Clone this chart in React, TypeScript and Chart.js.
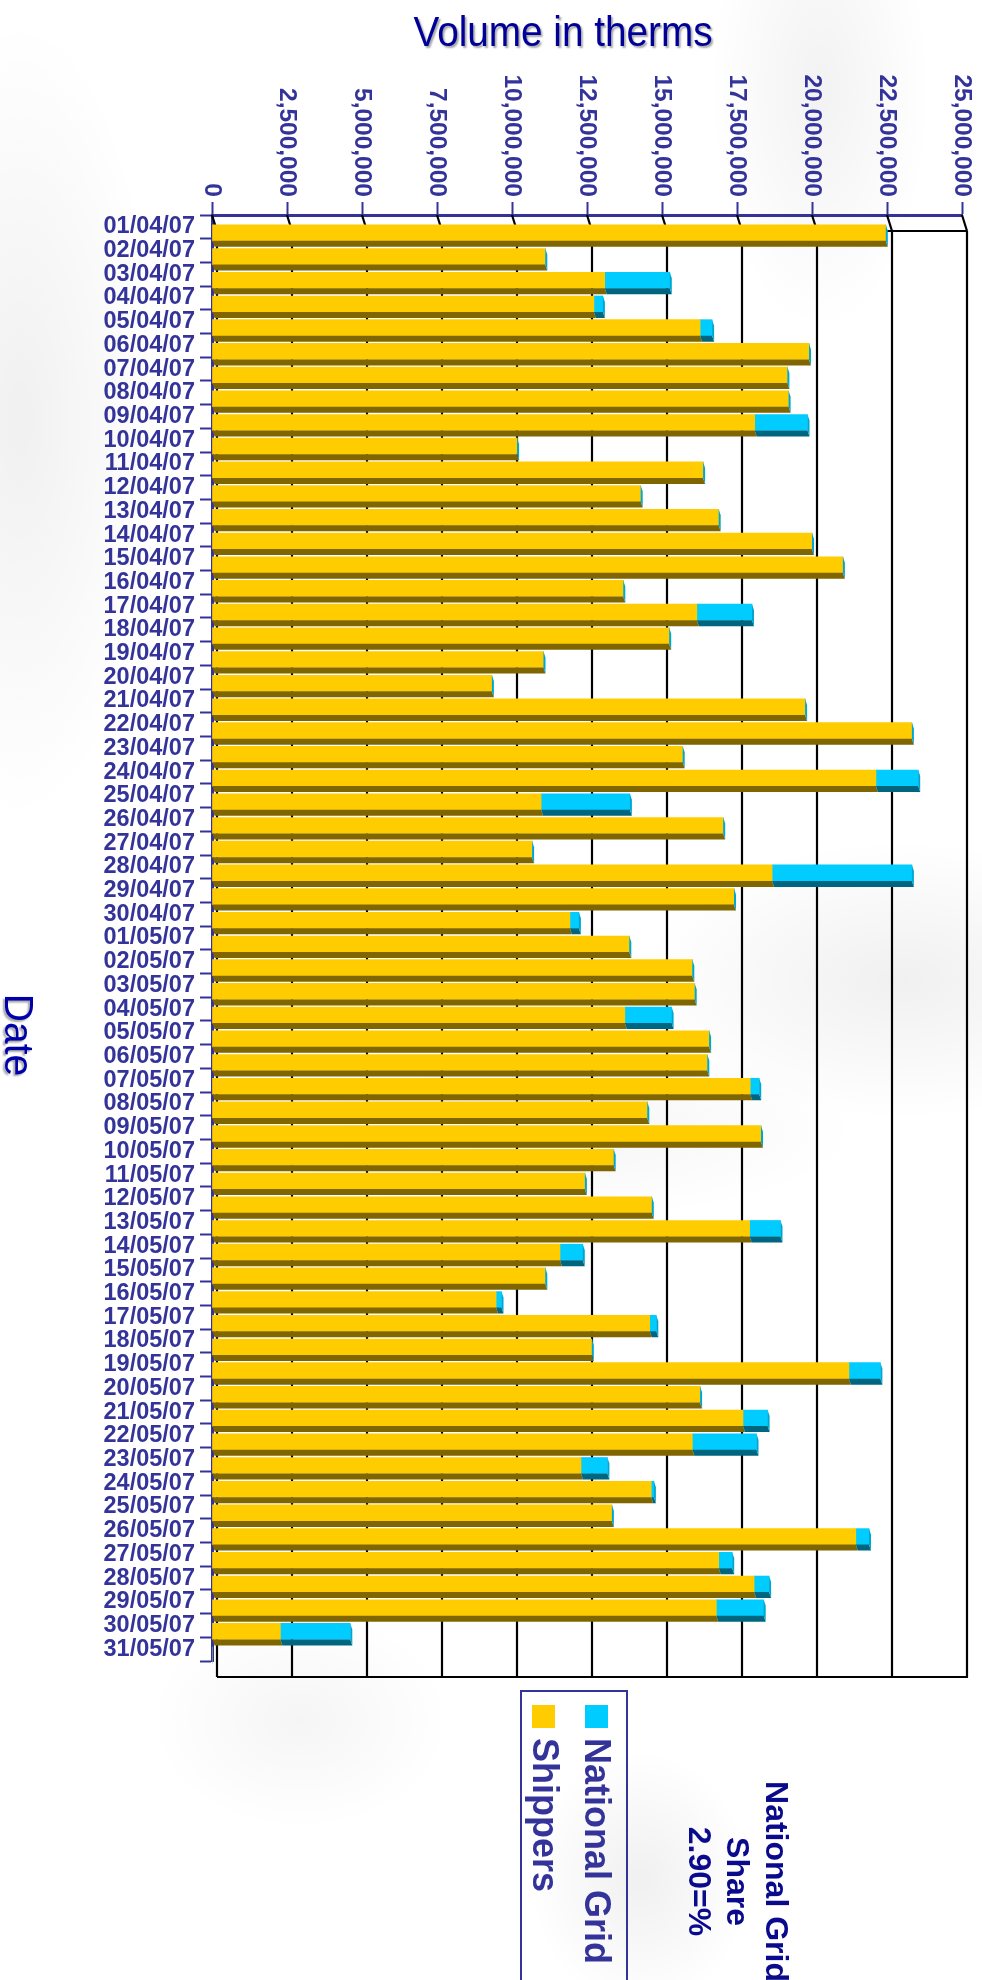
import React, { useEffect, useRef } from 'react';
import { Chart, registerables } from 'chart.js';

Chart.register(...registerables);

const dates = [
  '01/04/07', '02/04/07', '03/04/07', '04/04/07', '05/04/07', '06/04/07', '07/04/07', '08/04/07',
  '09/04/07', '10/04/07', '11/04/07', '12/04/07', '13/04/07', '14/04/07', '15/04/07', '16/04/07',
  '17/04/07', '18/04/07', '19/04/07', '20/04/07', '21/04/07', '22/04/07', '23/04/07', '24/04/07',
  '25/04/07', '26/04/07', '27/04/07', '28/04/07', '29/04/07', '30/04/07',
  '01/05/07', '02/05/07', '03/05/07', '04/05/07', '05/05/07', '06/05/07', '07/05/07', '08/05/07',
  '09/05/07', '10/05/07', '11/05/07', '12/05/07', '13/05/07', '14/05/07', '15/05/07', '16/05/07',
  '17/05/07', '18/05/07', '19/05/07', '20/05/07', '21/05/07', '22/05/07', '23/05/07', '24/05/07',
  '25/05/07', '26/05/07', '27/05/07', '28/05/07', '29/05/07', '30/05/07', '31/05/07',
];

const shippers = [
  22460000, 11110000, 13090000, 12730000, 16270000, 19900000, 19180000, 19220000,
  18090000, 10170000, 16370000, 14290000, 16890000, 20000000, 21030000, 13710000,
  16160000, 15240000, 11050000, 9330000, 19770000, 23330000, 15690000, 22130000,
  10970000, 17040000, 10670000, 18670000, 17400000, 11930000,
  13910000, 16010000, 16090000, 13760000, 16570000, 16510000, 17940000, 14510000,
  18300000, 13390000, 12430000, 14660000, 17920000, 11600000, 11110000, 9470000,
  14590000, 12660000, 21230000, 16270000, 17700000, 16010000, 12300000, 14640000,
  13330000, 21460000, 16890000, 18070000, 16810000, 2280000, 0,
];

const nationalGrid = [
  0, 0, 2170000, 300000, 400000, 0, 0, 0,
  1760000, 0, 0, 0, 0, 0, 0, 0,
  1840000, 0, 0, 0, 0, 0, 0, 1410000,
  2960000, 0, 0, 4660000, 0, 300000,
  0, 0, 0, 1560000, 0, 0, 300000, 0,
  0, 0, 0, 0, 1030000, 760000, 0, 180000,
  220000, 0, 1050000, 0, 820000, 2140000, 880000, 90000,
  0, 440000, 450000, 500000, 1580000, 2330000, 0,
];

const volumeTicks = [
  0, 2500000, 5000000, 7500000, 10000000, 12500000, 15000000, 17500000, 20000000, 22500000, 25000000,
];

const FONT = "'Liberation Sans', Arial, sans-serif";
const WALL_DX = 5;
const WALL_DY = 16;
const BAR_DX = 2;
const BAR_DY = 6;
const BAR_SHIFT = 6;

const threeDPlugin = {
  id: 'threeD',
  beforeDatasetsDraw(chart: any) {
    const { ctx, chartArea: a, scales } = chart;
    const x = scales.x;
    ctx.save();
    ctx.strokeStyle = '#000000';
    ctx.lineWidth = 2.2;
    ctx.beginPath();
    x.ticks.forEach((t: any) => {
      const px = x.getPixelForValue(t.value);
      ctx.moveTo(px, a.top);
      ctx.lineTo(px + WALL_DX, a.top + WALL_DY);
      ctx.moveTo(px + WALL_DX, a.top + WALL_DY);
      ctx.lineTo(px + WALL_DX, a.bottom + WALL_DY);
    });
    ctx.moveTo(a.left + WALL_DX, a.top + WALL_DY);
    ctx.lineTo(a.right + WALL_DX, a.top + WALL_DY);
    ctx.moveTo(a.left + WALL_DX, a.bottom + WALL_DY);
    ctx.lineTo(a.right + WALL_DX + 1, a.bottom + WALL_DY);
    ctx.stroke();
    ctx.restore();
    ctx.save();
    ctx.translate(0, BAR_SHIFT);
  },
  afterDatasetsDraw(chart: any) {
    const { ctx } = chart;
    const metaS = chart.getDatasetMeta(0);
    const metaN = chart.getDatasetMeta(1);
    const quad = (pts: number[][], color: string) => {
      ctx.beginPath();
      ctx.moveTo(pts[0][0], pts[0][1]);
      for (let k = 1; k < pts.length; k++) ctx.lineTo(pts[k][0], pts[k][1]);
      ctx.closePath();
      ctx.fillStyle = color;
      ctx.fill();
    };
    metaS.data.forEach((s: any, i: number) => {
      const n = metaN.data[i];
      const h = s.height;
      const yt = s.y - h / 2;
      const yb = s.y + h / 2;
      const x0 = s.base;
      const x1 = s.x;
      const x2 = n ? n.x : x1;
      if (x1 - x0 > 0.5) {
        quad([[x0, yb], [x1, yb], [x1 + BAR_DX, yb + BAR_DY], [x0 + BAR_DX, yb + BAR_DY]], '#806600');
      }
      if (x2 - x1 > 0.5) {
        quad([[x1, yb], [x2, yb], [x2 + BAR_DX, yb + BAR_DY], [x1 + BAR_DX, yb + BAR_DY]], '#006680');
      }
      if (x2 - x0 > 0.5) {
        quad([[x2, yt], [x2 + BAR_DX, yt + BAR_DY], [x2 + BAR_DX, yb + BAR_DY], [x2, yb]], '#00A6D2');
      }
    });
    ctx.restore();
  },
  afterDraw(chart: any) {
    const { ctx, scales } = chart;
    const x = scales.x;
    ctx.save();
    ctx.fillStyle = '#333399';
    ctx.font = `bold 24.5px ${FONT}`;
    ctx.textAlign = 'right';
    ctx.textBaseline = 'alphabetic';
    x.ticks.forEach((t: any) => {
      const px = x.getPixelForValue(t.value);
      ctx.save();
      ctx.translate(px, 197);
      ctx.rotate(Math.PI / 2);
      ctx.fillText(Number(t.value).toLocaleString('en-US'), 0, 7.5);
      ctx.restore();
    });
    ctx.restore();
  },
};

function VolumeChart() {
  const ref = useRef<HTMLCanvasElement | null>(null);
  useEffect(() => {
    if (!ref.current) return;
    const chart = new Chart(ref.current, {
      type: 'bar',
      data: {
        labels: dates,
        datasets: [
          { label: 'Shippers', data: shippers, backgroundColor: '#FFCC00', borderWidth: 0, barThickness: 16 },
          { label: 'National Grid', data: nationalGrid, backgroundColor: '#00CCFF', borderWidth: 0, barThickness: 16 },
        ],
      },
      options: {
        indexAxis: 'y',
        responsive: false,
        animation: false,
        devicePixelRatio: 1,
        layout: { padding: { left: 0, right: 20, top: 0, bottom: 319 } },
        plugins: {
          legend: { display: false },
          tooltip: { enabled: false },
          title: { display: false },
        },
        scales: {
          x: {
            position: 'top',
            stacked: true,
            min: 0,
            max: 25000000,
            afterBuildTicks: (s: any) => {
              s.ticks = volumeTicks.map((v) => ({ value: v }));
            },
            ticks: { display: false },
            grid: { drawOnChartArea: false, tickLength: 13, tickColor: '#333399', tickWidth: 2 },
            border: { color: '#333399', width: 3 },
            afterFit: (s: any) => {
              s.height = 215;
            },
          },
          y: {
            stacked: true,
            ticks: {
              autoSkip: false,
              color: '#333399',
              padding: 5,
              font: { family: FONT, size: 23.5, weight: 'bold' },
            },
            grid: { drawOnChartArea: false, tickLength: 12, tickColor: '#333399', tickWidth: 2, offset: true },
            border: { color: '#333399', width: 3 },
            afterFit: (s: any) => {
              s.width = 212;
            },
          },
        },
      } as any,
      plugins: [threeDPlugin],
    });
    return () => chart.destroy();
  }, []);
  return (
    <canvas
      ref={ref}
      width={982}
      height={1980}
      style={{ position: 'absolute', left: 0, top: 0, width: 982, height: 1980 }}
    />
  );
}

export default function App() {
  const bg = [
    'radial-gradient(ellipse 140px 400px at 20px 420px, rgba(0,0,0,0.06), transparent)',
    'radial-gradient(ellipse 260px 140px at 900px 980px, rgba(0,0,0,0.06), transparent)',
    'radial-gradient(ellipse 300px 90px at 560px 1130px, rgba(0,0,0,0.04), transparent)',
    'radial-gradient(ellipse 110px 130px at 640px 1880px, rgba(0,0,0,0.06), transparent)',
    'radial-gradient(ellipse 110px 240px at 820px 90px, rgba(0,0,0,0.05), transparent)',
    'radial-gradient(ellipse 150px 110px at 300px 1720px, rgba(0,0,0,0.04), transparent)',
    '#ffffff',
  ].join(', ');
  return (
    <div
      style={{
        position: 'absolute',
        left: 0,
        top: 0,
        width: 982,
        height: 1980,
        overflow: 'hidden',
        background: bg,
        fontFamily: FONT,
      }}
    >
      <VolumeChart />
      <div
        style={{
          position: 'absolute',
          left: 343,
          top: 10,
          width: 440,
          textAlign: 'center',
          font: `43px ${FONT}`,
          lineHeight: '43px',
          color: '#000099',
          textShadow: '2px 2px 2px rgba(0,0,0,0.35)',
          whiteSpace: 'nowrap',
          transform: 'scaleX(0.9)',
        }}
      >
        Volume in therms
      </div>
      <div
        style={{
          position: 'absolute',
          left: -41,
          top: 1012,
          width: 120,
          height: 46,
          lineHeight: '46px',
          textAlign: 'center',
          font: `41px ${FONT}`,
          color: '#0000AA',
          textShadow: '2px 2px 2px rgba(0,0,0,0.35)',
          transform: 'rotate(90deg) scaleX(0.95)',
          whiteSpace: 'nowrap',
        }}
      >
        Date
      </div>
      <div
        style={{
          position: 'absolute',
          left: 628,
          top: 1690,
          width: 330,
          height: 108,
          boxSizing: 'border-box',
          border: '2px solid #333399',
          transformOrigin: 'top left',
          transform: 'rotate(90deg)',
        }}
      >
        <div style={{ position: 'absolute', left: 13, top: 18, width: 23, height: 23, background: '#00CCFF' }} />
        <div
          style={{
            position: 'absolute',
            left: 46,
            top: 11,
            font: `bold 36px ${FONT}`,
            lineHeight: '36px',
            color: '#333399',
            whiteSpace: 'nowrap',
          }}
        >
          National Grid
        </div>
        <div style={{ position: 'absolute', left: 13, top: 71, width: 23, height: 23, background: '#FFCC00' }} />
        <div
          style={{
            position: 'absolute',
            left: 46,
            top: 63,
            font: `bold 36px ${FONT}`,
            lineHeight: '36px',
            color: '#333399',
            whiteSpace: 'nowrap',
          }}
        >
          Shippers
        </div>
      </div>
      <div
        style={{
          position: 'absolute',
          left: 796,
          top: 1700,
          width: 363,
          textAlign: 'center',
          font: `bold 32px ${FONT}`,
          lineHeight: '38.5px',
          color: '#0a0a8c',
          transformOrigin: 'top left',
          transform: 'rotate(90deg)',
          whiteSpace: 'nowrap',
        }}
      >
        National Grid
        <br />
        Share
        <br />
        2.90=%
      </div>
    </div>
  );
}
